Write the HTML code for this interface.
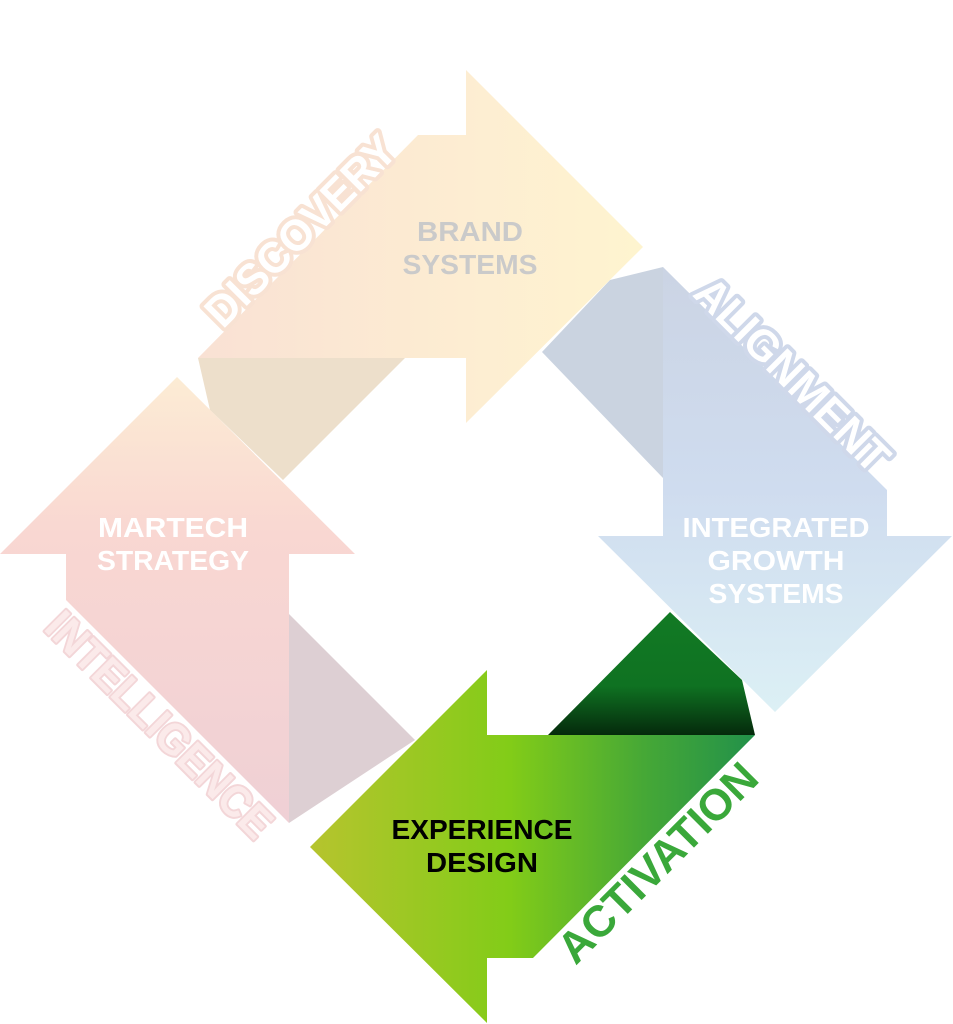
<!DOCTYPE html>
<html><head><meta charset="utf-8"><style>
html,body{margin:0;padding:0;background:#fff;}
svg{display:block;}
text{font-family:"Liberation Sans",sans-serif;font-weight:bold;}
</style></head><body>
<svg width="953" height="1024" viewBox="0 0 953 1024" xmlns="http://www.w3.org/2000/svg">
<defs>
<linearGradient id="gTop" x1="0" y1="0" x2="1" y2="0">
<stop offset="0" stop-color="#f9e1d4"/><stop offset="0.6" stop-color="#fdedd2"/><stop offset="1" stop-color="#fef4cf"/>
</linearGradient>
<linearGradient id="gBlue" x1="0" y1="0" x2="0" y2="1">
<stop offset="0" stop-color="#cbd4e4"/><stop offset="0.5" stop-color="#cfdcef"/><stop offset="1" stop-color="#dcf0f5"/>
</linearGradient>
<linearGradient id="gPink" x1="0" y1="0" x2="0" y2="1">
<stop offset="0" stop-color="#fcecd4"/><stop offset="0.35" stop-color="#f9d7d2"/><stop offset="1" stop-color="#efd0d5"/>
</linearGradient>
<linearGradient id="gGreen" x1="0" y1="0" x2="1" y2="0">
<stop offset="0" stop-color="#b6c42e"/><stop offset="0.45" stop-color="#82cc18"/><stop offset="0.75" stop-color="#46a836"/><stop offset="1" stop-color="#22914a"/>
</linearGradient>
<linearGradient id="gFoldG" x1="0" y1="0" x2="0" y2="1">
<stop offset="0" stop-color="#127a24"/><stop offset="0.6" stop-color="#0f7222"/><stop offset="1" stop-color="#052a0c"/>
</linearGradient>
</defs>

<polygon points="198,358 405,358 283,480 210,410" fill="#eddfcb"/>
<polygon points="542,352 610,280 663,267 663,478" fill="#cad3e0"/>
<polygon points="289,614 415,740 289,823" fill="#ddcfd3"/>
<polygon points="548,735 670,612 742,680 755,735" fill="url(#gFoldG)"/>

<polygon points="198,358 418,135 466,135 466,70 643,247 466,423 466,358" fill="url(#gTop)"/>
<polygon points="663,267 887,490 887,536 952,536 775,712 598,536 663,536" fill="url(#gBlue)"/>
<polygon points="177,377 355,554 289,554 289,823 66,600 66,554 0,554" fill="url(#gPink)"/>
<polygon points="310,847 487,670 487,735 755,735 533,958 487,958 487,1023" fill="url(#gGreen)"/>

<g font-size="28" text-anchor="middle" lengthAdjust="spacingAndGlyphs">
<text x="470" y="241" fill="#cacaca" textLength="106" lengthAdjust="spacingAndGlyphs">BRAND</text>
<text x="470" y="274" fill="#cacaca" textLength="135" lengthAdjust="spacingAndGlyphs">SYSTEMS</text>
<text x="776" y="537" fill="#ffffff" textLength="187" lengthAdjust="spacingAndGlyphs">INTEGRATED</text>
<text x="776" y="570" fill="#ffffff" textLength="137" lengthAdjust="spacingAndGlyphs">GROWTH</text>
<text x="776" y="603" fill="#ffffff" textLength="135" lengthAdjust="spacingAndGlyphs">SYSTEMS</text>
<text x="173" y="537" fill="#ffffff" textLength="150" lengthAdjust="spacingAndGlyphs">MARTECH</text>
<text x="173" y="570" fill="#ffffff" textLength="152" lengthAdjust="spacingAndGlyphs">STRATEGY</text>
<text x="482" y="839" fill="#000000" textLength="181" lengthAdjust="spacingAndGlyphs">EXPERIENCE</text>
<text x="482" y="872" fill="#000000" textLength="112" lengthAdjust="spacingAndGlyphs">DESIGN</text>
</g>

<g font-size="44" text-anchor="middle" stroke-linejoin="round" style="paint-order:stroke">
<text transform="translate(300,230) rotate(-45)" y="16" fill="#ffffff" stroke="#f8e2d3" stroke-width="8" textLength="250" lengthAdjust="spacingAndGlyphs">DISCOVERY</text>
<text transform="translate(793,374) rotate(45)" y="16" fill="#ffffff" stroke="#cfd8ea" stroke-width="8" textLength="255" lengthAdjust="spacingAndGlyphs">ALIGNMENT</text>
<text transform="translate(160,724) rotate(45)" y="16" fill="#fbeaea" stroke="#f3d6d8" stroke-width="4" textLength="300" lengthAdjust="spacingAndGlyphs">INTELLIGENCE</text>
<text transform="translate(657,862) rotate(-45)" y="16" fill="#3aa83a" textLength="262" lengthAdjust="spacingAndGlyphs">ACTIVATION</text>
</g>
</svg>
</body></html>
